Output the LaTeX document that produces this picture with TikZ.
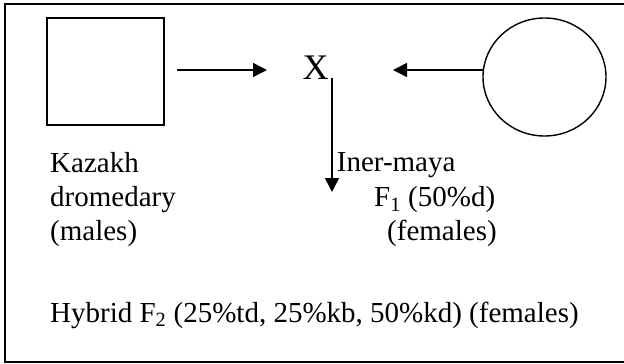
\documentclass[tikz,border=0pt]{standalone}
\usepackage{fontspec}
\setmainfont{Liberation Serif}
\usetikzlibrary{arrows.meta,shapes.geometric}
\begin{document}
\begin{tikzpicture}[x=1pt,y=-1pt,
  txt/.style={inner sep=0pt,anchor=base west,font=\fontsize{29}{34}\selectfont},
  arr/.style={line width=1.4pt,-{Triangle[length=14pt,width=14pt]}},
  shapeline/.style={draw,line width=1.4pt,inner sep=0pt}]
\useasboundingbox (0,0) rectangle (624,364);
\draw[line width=2pt] (5,4) rectangle (640,362);
\node[shapeline,rectangle,minimum width=117pt,minimum height=107pt] (sq) at (105.5,71.5) {};
\node[shapeline,ellipse,minimum width=123pt,minimum height=118pt] (circ) at (544.5,77) {};
\node[inner sep=0pt,anchor=base,font=\fontsize{36}{40}\selectfont] (x) at (315.5,79) {X};
\coordinate (a1s) at (177,70);
\coordinate (a1e) at (267,70);
\coordinate (a2s) at (483.5,70);
\coordinate (a2e) at (393,70);
\coordinate (a3s) at (332,78);
\coordinate (a3e) at (332,192);
\draw[arr] (a1s) -- (a1e);
\draw[arr] (a2s) -- (a2e);
\draw[arr] (a3s) -- (a3e);
\node[txt] (k1) at (50,172.5) {Kazakh};
\node[txt] (k2) at (50,206.7) {dromedary};
\node[txt] (k3) at (50,240.7) {(males)};
\node[txt] (i1) at (336.7,171.7) {Iner-maya};
\node[txt] (i2) at (374,206.7) {F\textsubscript{1} (50\%d)};
\node[txt] (i3) at (387,240.7) {(females)};
\node[txt] (h) at (50,322) {Hybrid F\textsubscript{2} (25\%td, 25\%kb, 50\%kd) (females)};
\end{tikzpicture}
\end{document}
